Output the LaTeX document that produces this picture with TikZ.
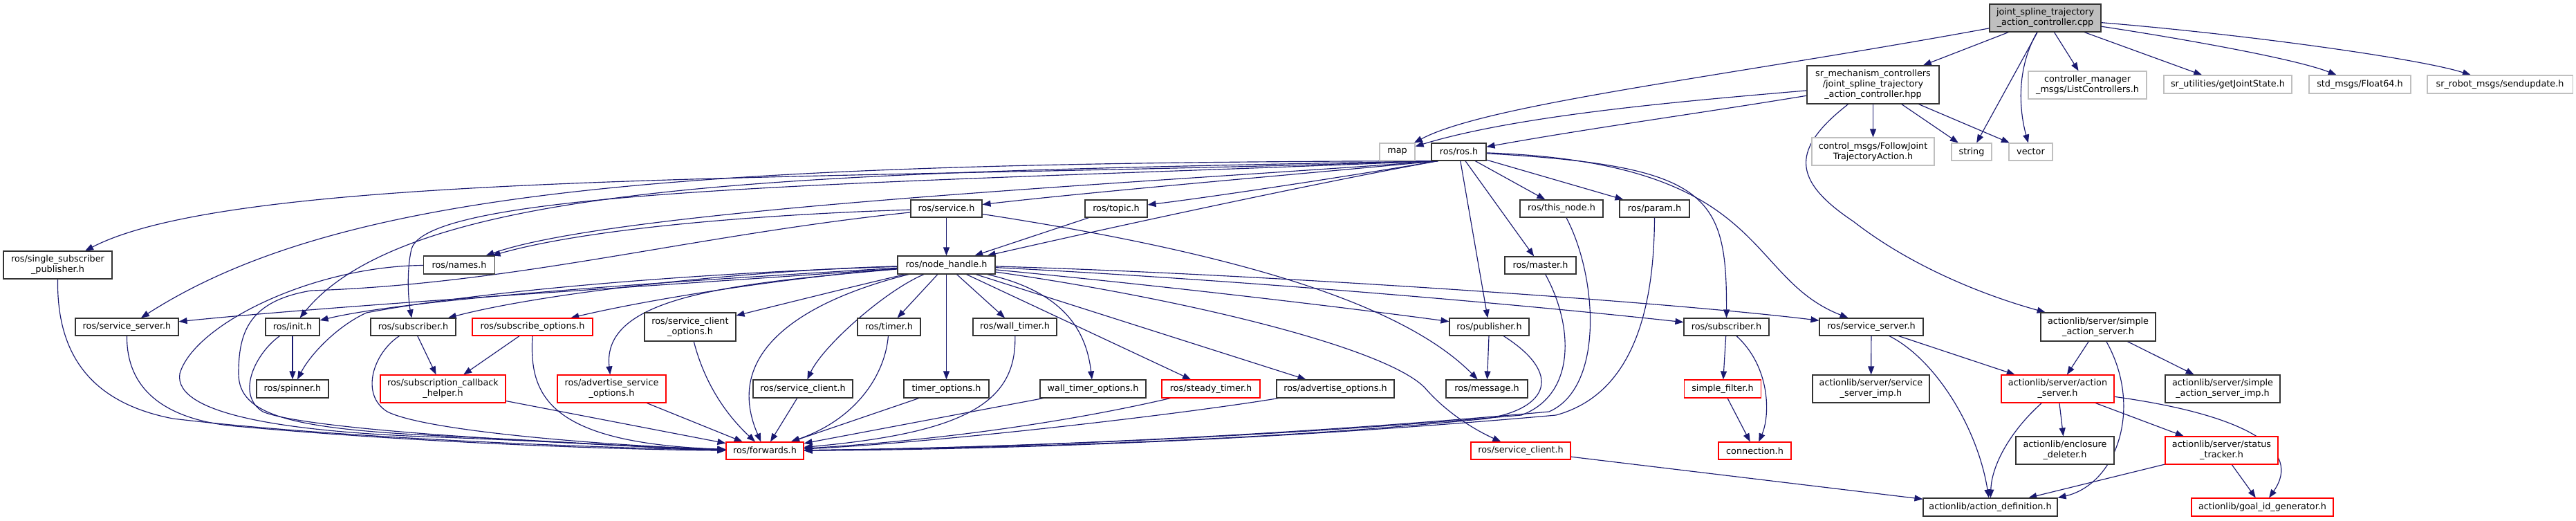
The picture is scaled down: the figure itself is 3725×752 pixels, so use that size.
\documentclass[tikz,border=0pt]{standalone}
\usepackage{fontspec}
\newfontfamily\nf{DejaVu Sans}
\usetikzlibrary{arrows.meta}
\definecolor{edgecol}{HTML}{191970}
\definecolor{gborder}{HTML}{BFBFBF}
\definecolor{rootfill}{HTML}{BFBFBF}
\definecolor{bborder}{HTML}{333333}
\definecolor{rborder}{HTML}{FF0000}
\pgfdeclarelayer{bg}
\pgfsetlayers{bg,main}
\begin{document}
\begin{tikzpicture}[x=1pt,y=-1pt,
  bx/.style={draw=bborder, fill=white, line width=1.1pt, inner sep=0pt, align=center, font={\nf\fontsize{12.8}{15}\selectfont}},
  gx/.style={bx, draw=gborder},
  rx/.style={bx, draw=rborder},
  sz/.style 2 args={minimum width=#1pt, minimum height=#2pt},
  arr/.style={draw=edgecol, line width=1.15pt, -{Triangle[length=12pt,width=9pt]}}]
\useasboundingbox (0,0) rectangle (3725,752);
% ---------- nodes ----------
\node[bx, fill=rootfill, sz={161}{40}] (root) at (2957.5,26) {joint\_spline\_trajectory\\\_action\_controller.cpp};
\node[bx, sz={191}{55}] (hpp) at (2708.5,122.5) {sr\_mechanism\_controllers\\/joint\_spline\_trajectory\\\_action\_controller.hpp};
\node[gx, sz={171}{40}] (cm) at (3018.5,123) {controller\_manager\\\_msgs/ListControllers.h};
\node[gx, sz={185}{26}] (gjs) at (3221.5,122) {sr\_utilities/getJointState.h};
\node[gx, sz={147}{26}] (f64) at (3412.5,122) {std\_msgs/Float64.h};
\node[gx, sz={210}{26}] (sup) at (3615,122) {sr\_robot\_msgs/sendupdate.h};
\node[gx, sz={177}{40}] (cmsg) at (2708.5,219) {control\_msgs/FollowJoint\\TrajectoryAction.h};
\node[gx, sz={58}{25}] (str) at (2851,219.5) {string};
\node[gx, sz={63}{25}] (vec) at (2936.5,219.5) {vector};
\node[gx, sz={51}{25}] (map) at (2020.5,219.5) {map};
\node[bx, sz={79}{25}] (ros) at (2109.5,219.5) {ros/ros.h};
\node[bx, sz={120}{25}] (thisnode) at (2258,301.5) {ros/this\_node.h};
\node[bx, sz={101}{25}] (param) at (2392.5,301.5) {ros/param.h};
\node[bx, sz={103}{25}] (service) at (1368.5,301.5) {ros/service.h};
\node[bx, sz={90}{25}] (topic) at (1614,301.5) {ros/topic.h};
\node[bx, sz={157}{40}] (ssp) at (83.5,383) {ros/single\_subscriber\\\_publisher.h};
\node[bx, sz={103}{26}] (names) at (664,383) {ros/names.h};
\node[bx, sz={141}{26}] (nh) at (1368.5,383) {ros/node\_handle.h};
\node[bx, sz={103}{25}] (master) at (2227.5,383.5) {ros/master.h};
\node[bx, sz={149}{25}] (ssL) at (183.5,472.5) {ros/service\_server.h};
\node[bx, sz={78}{25}] (init) at (423,472.5) {ros/init.h};
\node[bx, sz={123}{25}] (subL) at (597.5,472.5) {ros/subscriber.h};
\node[rx, sz={174}{25}] (subopt) at (770,472.5) {ros/subscribe\_options.h};
\node[bx, sz={132}{41}] (sco) at (998,472.5) {ros/service\_client\\\_options.h};
\node[bx, sz={91}{25}] (timer) at (1285.5,472.5) {ros/timer.h};
\node[bx, sz={121}{25}] (wtimer) at (1467.5,472.5) {ros/wall\_timer.h};
\node[bx, sz={115}{25}] (pub) at (2153.5,472.5) {ros/publisher.h};
\node[bx, sz={123}{25}] (subR) at (2496.5,472.5) {ros/subscriber.h};
\node[bx, sz={150}{25}] (ssR) at (2706,472.5) {ros/service\_server.h};
\node[bx, sz={166}{41}] (sas) at (3034,472.5) {actionlib/server/simple\\\_action\_server.h};
\node[bx, sz={104}{26}] (spinner) at (423,562) {ros/spinner.h};
\node[rx, sz={181}{40}] (sch) at (640.5,562) {ros/subscription\_callback\\\_helper.h};
\node[rx, sz={157}{40}] (asopt) at (884.5,562) {ros/advertise\_service\\\_options.h};
\node[bx, sz={144}{26}] (scB) at (1161,562) {ros/service\_client.h};
\node[bx, sz={123}{26}] (topt) at (1368.5,562) {timer\_options.h};
\node[bx, sz={153}{26}] (wtopt) at (1580.5,562) {wall\_timer\_options.h};
\node[rx, sz={142}{26}] (steady) at (1751,562) {ros/steady\_timer.h};
\node[bx, sz={170}{26}] (advopt) at (1931,562) {ros/advertise\_options.h};
\node[bx, sz={118}{26}] (msg) at (2150,562) {ros/message.h};
\node[rx, sz={111}{26}] (sfilter) at (2491,562) {simple\_filter.h};
\node[bx, sz={169}{40}] (ssimp) at (2705.5,562) {actionlib/server/service\\\_server\_imp.h};
\node[rx, sz={163}{40}] (acts) at (2975.5,562) {actionlib/server/action\\\_server.h};
\node[bx, sz={166}{40}] (sasimp) at (3214,562) {actionlib/server/simple\\\_action\_server\_imp.h};
\node[rx, sz={112}{25}] (fwd) at (1106,651.5) {ros/forwards.h};
\node[rx, sz={144}{25}] (scR) at (2199,651.5) {ros/service\_client.h};
\node[rx, sz={105}{25}] (conn) at (2537.5,651.5) {connection.h};
\node[bx, sz={142}{40}] (encl) at (2986,651) {actionlib/enclosure\\\_deleter.h};
\node[rx, sz={163}{40}] (stat) at (3212.5,651) {actionlib/server/status\\\_tracker.h};
\node[bx, sz={194}{26}] (adef) at (2878,733) {actionlib/action\_definition.h};
\node[rx, sz={205}{26}] (gid) at (3271.5,733) {actionlib/goal\_id\_generator.h};
\coordinate (rosSW) at ([xshift=10pt]ros.south west);
% ---------- edges ----------
\begin{pgfonlayer}{bg}
\fill[white] (0,0) rectangle (3725,752);
% root
\draw[arr] (root) -- (hpp);
\draw[arr] (root) .. controls (2500,110) and (2150,150) .. (map);
\draw[arr] (root) -- (str);
\draw[arr] (root) .. controls (2915,100) and (2920,160) .. (vec);
\draw[arr] (root) -- (cm);
\draw[arr] (root) -- (gjs);
\draw[arr] (root) .. controls (3150,55) and (3320,85) .. (f64);
\draw[arr] (root) .. controls (3250,50) and (3500,85) .. (sup);
% hpp
\draw[arr] (hpp) -- (cmsg);
\draw[arr] (hpp) -- (str);
\draw[arr] (hpp) -- (vec);
\draw[arr] (hpp) .. controls (2450,145) and (2200,165) .. (map);
\draw[arr] (hpp) .. controls (2450,165) and (2300,185) .. (ros);
\draw[arr] (hpp) .. controls (2590,215) and (2590,260) .. (2680,320) .. controls (2770,390) and (2880,430) .. (sas);
% ros
\draw[arr] (ros) -- (thisnode);
\draw[arr] (ros) -- (param);
\draw[arr] (ros) -- (master);
\draw[arr] (ros) -- (pub);
\draw[arr] (ros) .. controls (2470,240) and (2497,280) .. (subR);
\draw[arr] (ros) .. controls (2560,235) and (2520,400) .. (ssR);
\draw[arr] (rosSW) .. controls (1900,265) and (1600,330) .. (nh);
\draw[arr] (rosSW) .. controls (1950,255) and (1750,285) .. (topic);
\draw[arr] (rosSW) .. controls (1900,250) and (1600,275) .. (service);
\draw[arr] (rosSW) .. controls (1700,262) and (900,300) .. (names);
\draw[arr] (rosSW) .. controls (1200,262) and (350,245) .. (ssp);
\draw[arr] (rosSW) .. controls (1000,235) and (500,270) .. (ssL);
\draw[arr] (rosSW) .. controls (1200,250) and (600,255) .. (init);
\draw[arr] (rosSW) .. controls (1300,265) and (620,270) .. (595,360) .. controls (588,390) and (590,430) .. (subL);
% service, topic, names
\draw[arr] (service) -- (nh);
\draw[arr] (topic) -- (nh);
\draw[arr] (service) .. controls (1100,310) and (850,330) .. (names);
\draw[arr] (service) .. controls (1000,340) and (750,410) .. (450,420) .. controls (360,435) and (345,480) .. (345,540) .. controls (345,600) and (420,620) .. (640,630) .. controls (850,640) and (950,648) .. (fwd);
\draw[arr] (service) .. controls (1750,360) and (2020,430) .. (msg);
\draw[arr] (names) .. controls (450,385) and (280,470) .. (260,540) .. controls (250,600) and (420,625) .. (640,632) .. controls (850,640) and (950,648) .. (fwd);
% into forwards from the left
\draw[arr] (ssp.south) .. controls (82,500) and (120,580) .. (250,605) .. controls (500,635) and (900,648) .. (fwd);
\draw[arr] (ssL.south) .. controls (183,540) and (210,600) .. (330,615) .. controls (600,640) and (900,650) .. (fwd);
\draw[arr] (init) .. controls (370,510) and (340,570) .. (380,595) .. controls (450,625) and (900,645) .. (fwd);
\draw[arr] (subL) .. controls (540,510) and (520,570) .. (560,595) .. controls (620,625) and (900,645) .. (fwd);
\draw[arr] (sch) -- (fwd);
\draw[arr] (subopt.south) .. controls (765,570) and (790,640) .. (fwd);
\draw[arr] (asopt) -- (fwd);
\draw[arr] (sco) .. controls (1015,540) and (1040,590) .. (fwd);
\draw[arr] (scB) -- (fwd);
% into forwards from the right
\draw[arr] (timer) .. controls (1280,540) and (1240,605) .. (fwd);
\draw[arr] (topt) -- (fwd);
\draw[arr] (wtimer) .. controls (1470,580) and (1400,625) .. (fwd);
\draw[arr] (wtopt) -- (fwd);
\draw[arr] (steady) .. controls (1500,620) and (1300,640) .. (fwd);
\draw[arr] (advopt) .. controls (1700,600) and (1350,640) .. (fwd);
\draw[arr] (pub) .. controls (2260,540) and (2240,590) .. (2150,605) .. controls (1800,640) and (1400,648) .. (fwd);
\draw[arr] (master) .. controls (2275,470) and (2280,570) .. (2200,600) .. controls (1800,635) and (1400,648) .. (fwd);
\draw[arr] (thisnode) .. controls (2310,400) and (2320,560) .. (2240,595) .. controls (1800,635) and (1400,648) .. (fwd);
\draw[arr] (param) .. controls (2392,450) and (2360,570) .. (2250,600) .. controls (1800,640) and (1400,650) .. (fwd);
% node_handle
\draw[arr] (nh) -- (timer);
\draw[arr] (nh) -- (topt);
\draw[arr] (nh) -- (wtimer);
\draw[arr] (nh) .. controls (1530,420) and (1570,470) .. (wtopt);
\draw[arr] (nh) -- (steady);
\draw[arr] (nh) -- (advopt);
\draw[arr] (nh) .. controls (1700,430) and (2000,500) .. (2060,560) .. controls (2090,595) and (2130,620) .. (scR);
\draw[arr] (nh) .. controls (1700,415) and (1950,445) .. (pub);
\draw[arr] (nh) .. controls (1800,405) and (2200,440) .. (subR);
\draw[arr] (nh) .. controls (1800,395) and (2400,435) .. (ssR);
\draw[arr] (nh) .. controls (1100,390) and (800,420) .. (subL);
\draw[arr] (nh) .. controls (1150,400) and (950,430) .. (subopt);
\draw[arr] (nh) .. controls (1250,410) and (1150,435) .. (sco);
\draw[arr] (nh) .. controls (1050,410) and (870,430) .. (asopt);
\draw[arr] (nh) .. controls (1280,420) and (1190,500) .. (scB);
\draw[arr] (nh) .. controls (1180,430) and (1040,500) .. (fwd);
\draw[arr] (nh) .. controls (1000,395) and (700,420) .. (530,452) .. controls (490,470) and (450,510) .. (spinner);
\draw[arr] (nh) .. controls (1000,405) and (600,430) .. (init);
\draw[arr] (nh) .. controls (1000,410) and (500,440) .. (ssL);
% others
\draw[arr] (pub) -- (msg);
\draw[arr] (init) -- (spinner);
\draw[arr] (subL) -- (sch);
\draw[arr] (subopt) -- (sch);
\draw[arr] (subR) -- (sfilter);
\draw[arr] (subR) .. controls (2560,530) and (2560,600) .. (conn);
\draw[arr] (sfilter) -- (conn);
\draw[arr] (ssR) -- (ssimp);
\draw[arr] (ssR) .. controls (2800,520) and (2860,620) .. (adef);
\draw[arr] (ssR) -- (acts);
\draw[arr] (scR) -- (adef);
\draw[arr] (sas) -- (acts);
\draw[arr] (sas) .. controls (3100,590) and (3060,700) .. (adef.north east);
\draw[arr] (sas) -- (sasimp);
\draw[arr] (acts) .. controls (2910,620) and (2880,670) .. (adef);
\draw[arr] (acts) -- (encl);
\draw[arr] (acts) -- (stat);
\draw[arr] (acts) .. controls (3250,600) and (3330,650) .. (gid);
\draw[arr] (stat) -- (adef);
\draw[arr] (stat) -- (gid);
\end{pgfonlayer}
\end{tikzpicture}
\end{document}
